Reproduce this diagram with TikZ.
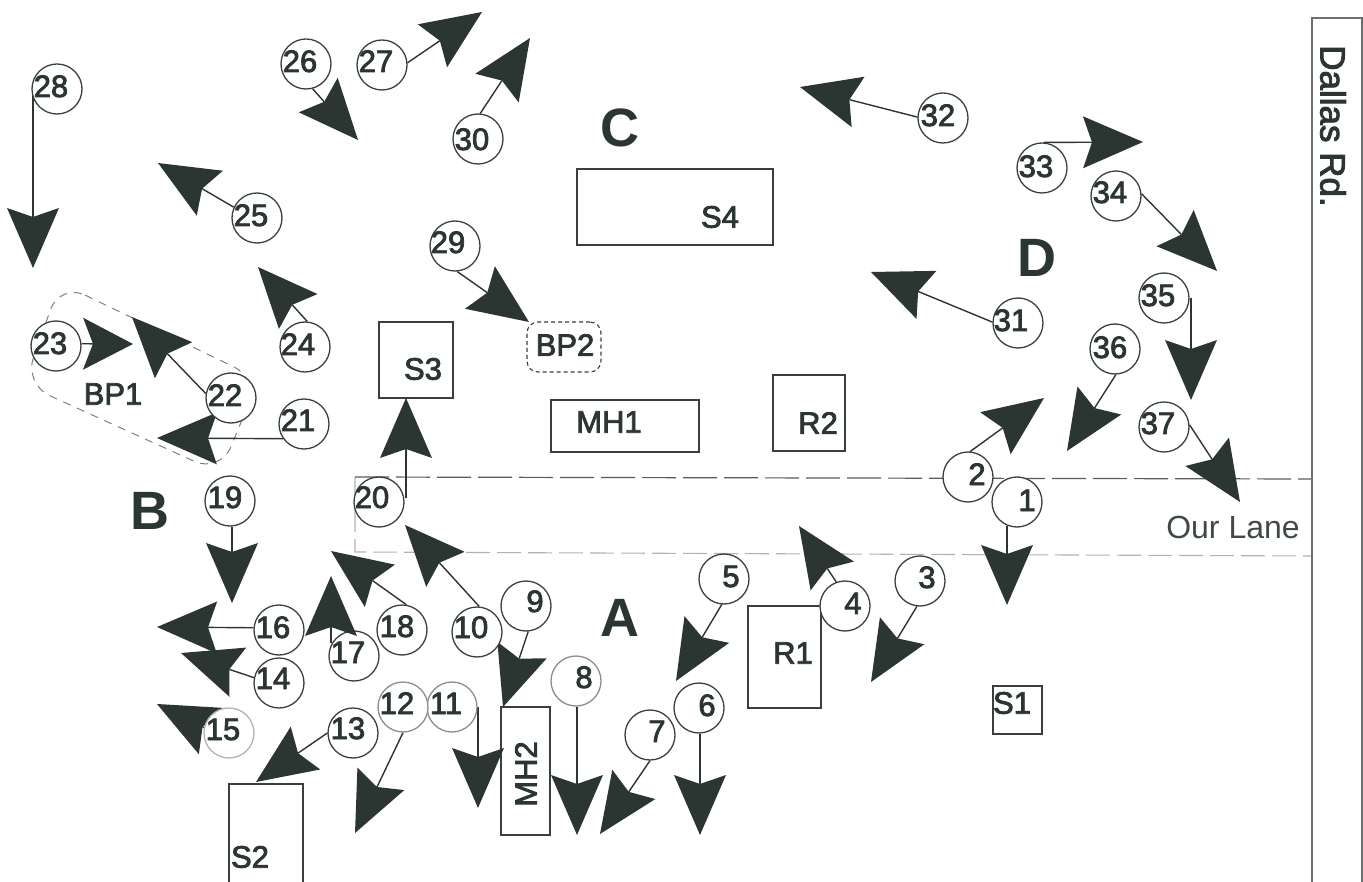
\documentclass[tikz,border=0pt]{standalone}
\usepackage{fontspec}
\setmainfont{Liberation Sans}
\newfontfamily\semif[FakeBold=2.5]{Liberation Sans}
\usetikzlibrary{arrows.meta}
\definecolor{ink}{HTML}{2B3532}
\definecolor{rule}{HTML}{3A3F3E}
\colorlet{ringc}{rule}
\pgfdeclarelayer{under}
\pgfsetlayers{under,main}
\tikzset{
  x=1pt,y=-1pt,
  circ/.style={circle,draw=ringc,fill=white,line width=1.3pt,minimum size=50pt,inner sep=0pt,text=ink,font=\fontsize{31}{31}\semif},
  conn/.style={draw=ink,line width=1.4pt,-{Stealth[length=60pt,width=52pt,inset=9pt,line width=0pt]}},
  connS/.style={draw=ink,line width=1.4pt,-{Stealth[length=50pt,width=52pt,inset=10pt,line width=0pt]}},
  bx/.style={rectangle,draw=rule,fill=white,line width=1.2pt,inner sep=0pt},
  lbl/.style={inner sep=0pt,text=ink,font=\fontsize{31}{31}\semif},
  zone/.style={inner sep=0pt,text=ink,font=\fontsize{54}{54}\selectfont\bfseries},
  lanetop/.style={draw=rule!85,line width=1.2pt,dash pattern=on 34pt off 7pt},
  lanelow/.style={draw=gray!60,line width=1.1pt,dash pattern=on 24pt off 7pt},
  bpdash/.style={draw=gray,line width=1pt,dash pattern=on 8pt off 7pt,rounded corners=28pt},
}
% centre x, centre y, text shift x, text shift y (upwards), number
\newcommand{\cn}[5]{\node[circ] (n#5) at (#1,#2) {\makebox[0pt]{\hspace*{\dimexpr 2\dimexpr #3pt\relax\relax}\raisebox{\dimexpr #4pt - 11pt\relax}[0pt][0pt]{#5}}};}
% number, start anchor angle, tip x, tip y
\newcommand{\ar}[4]{\coordinate (t#1) at (#3,#4); \begin{pgfonlayer}{under}\draw[conn] (n#1.#2) -- (t#1);\end{pgfonlayer}}
% same, the line kept exactly vertical
\newcommand{\arv}[4]{\coordinate (t#1) at (#3,#4); \begin{pgfonlayer}{under}\draw[conn] (t#1 |- n#1.#2) -- (t#1);\end{pgfonlayer}}
\begin{document}
\begin{tikzpicture}
\useasboundingbox (0,0) rectangle (1363,882);
\begin{pgfonlayer}{under}
  % lane
  \coordinate (laneTL) at (355,477);
  \coordinate (laneBL) at (355,552);
  \coordinate (laneTR) at (1312,479);
  \coordinate (laneBR) at (1312,556);
  \draw[lanelow] (laneTL) -- (laneBL) -- (laneBR);
  \draw[lanetop] (laneTL) -- (laneTR);
  % road
  \draw[draw=rule!75,line width=1.6pt] (1312,882) -- (1312,18) -- (1362,18) -- (1362,882);
  % zone outline
  \draw[bpdash] (60,283) -- (259,379) -- (220,473) -- (24,384) -- cycle;
  % buildings
  \node[bx,minimum width=196pt,minimum height=76pt] (S4) at (675,207) {};
  \node[bx,minimum width=74pt,minimum height=76pt] (S3) at (416,360) {};
  \node[bx,minimum width=148pt,minimum height=52pt] (MH1) at (625,426) {};
  \node[bx,minimum width=72pt,minimum height=76pt] (R2) at (809,413) {};
  \node[bx,minimum width=73pt,minimum height=102pt] (R1) at (784.5,657) {};
  \node[bx,minimum width=49pt,minimum height=48pt] (S1) at (1017.5,710) {};
  \node[bx,minimum width=74pt,minimum height=110pt] (S2) at (266,839) {};
  \node[bx,minimum width=49pt,minimum height=128pt] (MH2) at (525.5,771) {};
  \node[draw=rule,fill=white,line width=1.1pt,dash pattern=on 4pt off 3pt,rounded corners=11pt,minimum width=74pt,minimum height=50pt,inner sep=0pt] (BP2) at (564,347) {};
\end{pgfonlayer}

\node[lbl] (tS4) at (720,217) {S4};
\node[lbl] (tS3) at (423,369) {S3};
\node[lbl] (tMH1) at (609,422) {MH1};
\node[lbl] (tR2) at (818,423) {R2};
\node[lbl] (tR1) at (793,653) {R1};
\node[lbl] (tS1) at (1012,703) {S1};
\node[lbl] (tS2) at (250,857) {S2};
\node[lbl,rotate=90] (tMH2) at (526,774) {MH2};
\node[lbl] (tBP2) at (565,345) {BP2};
\node[lbl] (tBP1) at (113,394) {BP1};
\node[zone] (zA) at (620,618) {A};
\node[zone] (zB) at (150,511) {B};
\node[zone] (zC) at (620,128) {C};
\node[zone] (zD) at (1037,258) {D};
\node[lbl,text=ink!90,font=\fontsize{32}{32}\selectfont] (lane) at (1233,527) {Our Lane};
\node[lbl,rotate=-90,font=\fontsize{35}{35}\semif] (road) at (1333,126) {Dallas Rd.};

\cn{1017}{502}{10}{2}{1}
\cn{968}{477}{9}{3}{2}
\cn{920}{581}{7}{4}{3}
\cn{845}{606}{8}{3}{4}
\cn{724}{579}{7}{3}{5}
\cn{699}{708}{8}{3}{6}
\cn{650}{735}{7}{4}{7}
\colorlet{ringc}{gray!90}
\cn{576}{681}{8}{4}{8}
\colorlet{ringc}{rule}
\cn{526}{606}{9}{5}{9}
\cn{477}{632}{-6}{5}{10}
\colorlet{ringc}{gray!90}
\cn{452}{707}{-6}{4}{11}
\cn{403}{707}{-6}{4}{12}
\colorlet{ringc}{rule}
\cn{353}{733}{-5}{5}{13}
\cn{279}{683}{-6}{5}{14}
\colorlet{ringc}{gray!60}
\cn{229}{733}{-6}{4}{15}
\colorlet{ringc}{rule}
\cn{279}{630}{-6}{3}{16}
\cn{354}{656}{-6}{4}{17}
\cn{402}{630}{-5}{4}{18}
\cn{230}{501}{-5}{4}{19}
\cn{379}{502}{-7}{5}{20}
\cn{304}{424}{-6}{4}{21}
\cn{231}{398}{-6}{3}{22}
\cn{56}{346}{-6}{3}{23}
\cn{305}{347}{-7}{3}{24}
\cn{257}{218}{-6}{3}{25}
\cn{306}{64}{-6}{3}{26}
\cn{382}{65}{-6}{4}{27}
\cn{57}{89}{-6}{3}{28}
\cn{455}{246}{-7}{4}{29}
\cn{478}{139}{-6}{0}{30}
\cn{1018}{323}{-7}{3}{31}
\cn{943}{118}{-5}{3}{32}
\cn{1042}{168}{-6}{2}{33}
\cn{1116}{196}{-6}{4}{34}
\cn{1164}{298}{-6}{3}{35}
\cn{1115}{349}{-5}{2}{36}
\cn{1164}{427}{-6}{4}{37}

\arv{1}{-112}{1007}{605}
\ar{2}{85}{1044}{398}
\ar{3}{-97}{871}{682}
\ar{4}{110}{799}{526}
\ar{5}{-95}{676}{681}
\arv{6}{-88}{700}{835}
\ar{7}{-90}{600}{834}
\arv{8}{-88}{577}{835}
\ar{9}{-85}{503}{707}
\ar{10}{85}{405}{525}
\arv{11}{0}{478}{808}
\ar{12}{-90}{355}{833}
\ar{13}{180}{256}{782}
\ar{14}{168}{181}{653}
\ar{15}{168}{157}{704}
\ar{16}{175}{157}{627}
\coordinate (t17) at (331,576); \draw[conn] (t17 |- n17.150) -- (t17);
\ar{18}{80}{331}{551}
\arv{19}{-85}{232}{603}
\arv{20}{10}{406}{398}
\ar{21}{-145}{157}{438}
\ar{22}{170}{132}{317}
\coordinate (t23) at (133,344); \begin{pgfonlayer}{under}\draw[connS] (n23.5) -- (t23);\end{pgfonlayer}
\ar{24}{85}{258}{267}
\ar{25}{155}{158}{163}
\ar{26}{-75}{358}{140}
\ar{27}{5}{482}{12}
\arv{28}{180}{33}{268}
\ar{29}{-85}{529}{322}
\ar{30}{85}{530}{38}
\ar{31}{178}{871}{272}
\ar{32}{178}{800}{87}
\ar{33}{85}{1143}{142}
\ar{34}{5}{1217}{271}
\arv{35}{0}{1191}{400}
\ar{36}{-88}{1067}{451}
\ar{37}{5}{1240}{502}
\end{tikzpicture}
\end{document}
